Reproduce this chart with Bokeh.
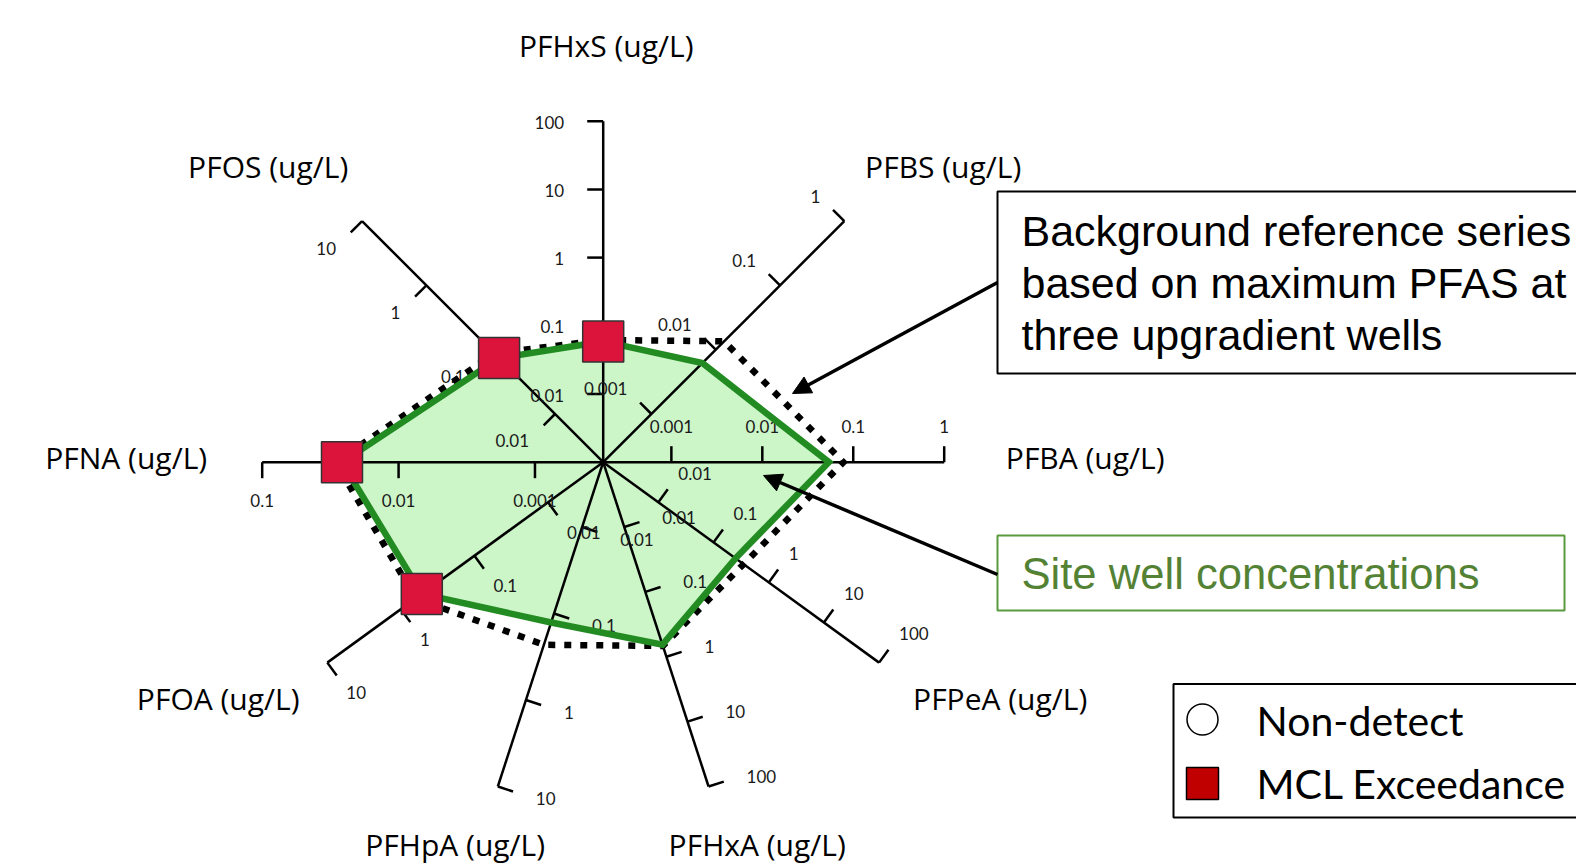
import math
from bokeh.plotting import figure
from bokeh.models import Range1d, Arrow, NormalHead
from bokeh.core.properties import value
from bokeh.embed import file_html
from bokeh.resources import INLINE

# ---------------- data ----------------
analytes = ["PFHxS", "PFBS", "PFBA", "PFPeA", "PFHxA", "PFHpA", "PFOA", "PFNA", "PFOS"]
axis_titles = [a + " (ug/L)" for a in analytes]
axis_min = [0.001, 0.000178, 0.000178, 0.001, 0.001, 0.00178, 0.00178, 0.000316, 0.00178]
axis_max = [100, 1, 1, 100, 100, 10, 10, 0.1, 10]
site_well = [0.059, 0.0062, 0.054, 0.25, 0.65, 0.127, 0.52, 0.026, 0.074]
background = [0.062, 0.0135, 0.078, 0.35, 0.68, 0.23, 0.63, 0.029, 0.0875]
mcl_exceedance = [True, False, False, False, False, False, True, True, True]
legend_labels = ["Non-detect", "MCL Exceedance"]
note_background = ["Background reference series", "based on maximum PFAS at", "three upgradient wells"]
note_site = "Site well concentrations"

# ---------------- layout ----------------
W, H = 1576, 866
CX, CY, R = 602.7, 461.7, 341.0
angles = [90, 45, 0, -36, -72, -108, -144, 180, 135]
TICK = 16
label_layout = [("right", -39, 1), ("right", -24, -25), ("center", 0, -36), ("left", 20, -29),
                ("left", 38, -10), ("left", 38, 12), ("left", 19, 30), ("center", 0, 38), ("right", -26, 27)]
title_offset = [(3, -417), (340, -296), (482, -5), (397, 236), (154, 382), (-148, 382),
                (-385, 236), (-477, -5), (-335, -296)]

FONT = "Lato"
TITLE_FONT = "Open Sans"
GREEN = "#228B22"
FILL = "#CCF5C8"


def radius(i, v):
    lo, hi = math.log10(axis_min[i]), math.log10(axis_max[i])
    return R * (math.log10(v) - lo) / (hi - lo)


def point(i, r):
    a = math.radians(angles[i])
    return CX + r * math.cos(a), CY - r * math.sin(a)


p = figure(width=W, height=H, x_range=Range1d(0, W), y_range=Range1d(H, 0),
           output_backend="svg", toolbar_location=None, min_border=0,
           x_axis_location=None, y_axis_location=None)
p.grid.visible = False
p.outline_line_color = None
p.background_fill_color = "white"

# series geometry
site_pts = [point(i, radius(i, v)) for i, v in enumerate(site_well)]
bg_pts = [point(i, radius(i, v)) for i, v in enumerate(background)]

p.patch([q[0] for q in site_pts], [q[1] for q in site_pts], fill_color=FILL, line_color=None)

# axes, ticks and tick labels
ax_x, ax_y = [], []
tk_x, tk_y = [], []
lab_x, lab_y, lab_t, lab_a = [], [], [], []
for i in range(len(analytes)):
    ex, ey = point(i, R)
    ax_x.append([CX, ex]); ax_y.append([CY, ey])
    a = math.radians(angles[i])
    nx, ny = -math.sin(a), -math.cos(a)
    lo = math.ceil(math.log10(axis_min[i]) - 1e-9)
    hi = int(round(math.log10(axis_max[i])))
    for d in range(lo, hi + 1):
        v = 10.0 ** d
        r = radius(i, v)
        if r < 1:
            continue
        tx, ty = point(i, r)
        tk_x.append([tx, tx + TICK * nx]); tk_y.append([ty, ty + TICK * ny])
        al, dx, dy = label_layout[i]
        lab_x.append(tx + dx); lab_y.append(ty + dy)
        lab_t.append(f"{v:g}"); lab_a.append(al)

p.multi_line(ax_x, ax_y, line_color="black", line_width=2.5)
p.multi_line(tk_x, tk_y, line_color="black", line_width=2.5)
for al in ("left", "right", "center"):
    idx = [k for k in range(len(lab_t)) if lab_a[k] == al]
    p.text([lab_x[k] for k in idx], [lab_y[k] for k in idx], text=[lab_t[k] for k in idx],
           text_font=value(FONT), text_font_size="17px", text_align=al,
           text_baseline="middle", text_color="#1a1a1a")

# background dotted series
p.patch([q[0] for q in bg_pts], [q[1] for q in bg_pts], fill_color=None, line_color="black",
        line_width=6.5, line_dash="7 9", line_join="miter")
# site well line
p.patch([q[0] for q in site_pts], [q[1] for q in site_pts], fill_color=None, line_color=GREEN,
        line_width=6.5, line_join="miter")
# MCL exceedance markers
mx = [site_pts[i][0] for i in range(len(analytes)) if mcl_exceedance[i]]
my = [site_pts[i][1] for i in range(len(analytes)) if mcl_exceedance[i]]
p.scatter(mx, my, marker="square", size=41, fill_color="#DC143C", line_color="#333333", line_width=1.5)

# axis titles
p.text([CX + o[0] for o in title_offset], [CY + o[1] for o in title_offset], text=axis_titles,
       text_font=value(TITLE_FONT), text_font_size="30px", text_align="center", text_baseline="middle",
       text_color="black")

# annotation boxes
p.quad(left=[997], right=[1620], top=[191], bottom=[373], fill_color="white", line_color="black", line_width=2)
p.text([1021] * 3, [230, 282.5, 334.7], text=note_background, text_font=value("Liberation Sans"),
       text_font_size="43px", text_align="left", text_baseline="middle", text_color="black")
p.quad(left=[997], right=[1564], top=[535], bottom=[610], fill_color="white", line_color="#5B9A3C", line_width=2)
p.text([1021], [573], text=[note_site], text_font=value("Liberation Sans"), text_font_size="43.6px",
       text_align="left", text_baseline="middle", text_color="#548235")

# legend
p.quad(left=[1173], right=[1620], top=[683.5], bottom=[817], fill_color="white", line_color="black", line_width=2)
p.scatter([1202], [719], marker="circle", size=31, fill_color="white", line_color="black", line_width=1.5)
p.scatter([1202], [783], marker="square", size=32, fill_color="#C00000", line_color="black", line_width=1.5)
p.text([1256, 1256], [720, 783], text=legend_labels, text_font=value(FONT), text_font_size="41px",
       text_align="left", text_baseline="middle", text_color="black")

# arrows
p.add_layout(Arrow(end=NormalHead(size=18, fill_color="black", line_color="black"),
                   x_start=997, y_start=282, x_end=792, y_end=393, line_width=3.5, line_color="black"))
p.add_layout(Arrow(end=NormalHead(size=18, fill_color="black", line_color="black"),
                   x_start=997, y_start=574, x_end=763, y_end=475, line_width=3.5, line_color="black"))

open("out.html", "w").write(file_html(p, INLINE))
